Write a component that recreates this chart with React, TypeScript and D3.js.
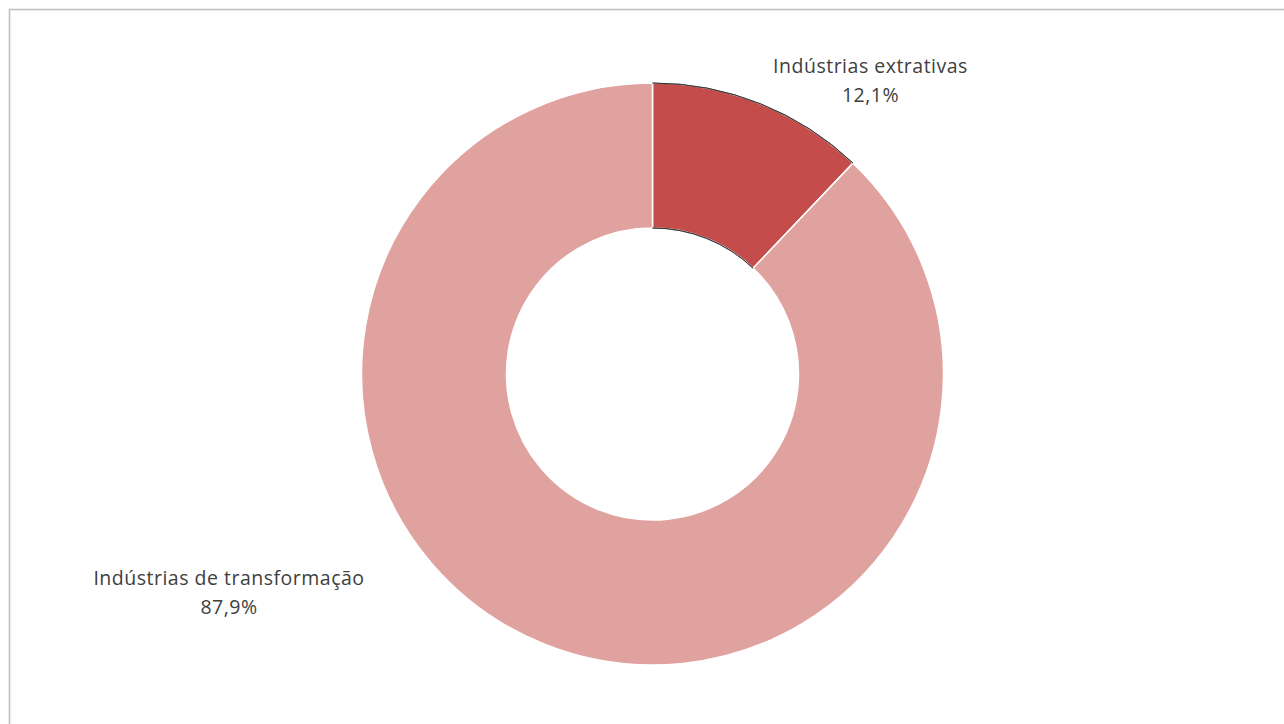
import React from "react";
import * as d3 from "d3";

const categories = ["Indústrias extrativas", "Indústrias de transformação"];
const values = [12.1, 87.9];
const valueLabels = ["12,1%", "87,9%"];
const colors = ["#C44C4A", "#E0A29F"];

const W = 1284;
const H = 724;

export default function App() {
  const cx = 652.5;
  const cy = 374;
  const outerR = 291;
  const innerR = 146;

  const pie = d3.pie<number>().sort(null).startAngle(0).endAngle(2 * Math.PI);
  const arcs = pie(values);
  const arcGen = d3.arc<d3.PieArcDatum<number>>().innerRadius(innerR).outerRadius(outerR);

  const red = arcs[0];
  const outerArc = d3.arc()({ innerRadius: outerR, outerRadius: outerR, startAngle: red.startAngle, endAngle: red.endAngle } as any);
  const innerArc = d3.arc()({ innerRadius: innerR, outerRadius: innerR, startAngle: red.startAngle, endAngle: red.endAngle } as any);

  const labelPos = [
    { x: 870.5, y: 73 },
    { x: 229, y: 585 },
  ];

  return (
    <svg
      width={W}
      height={H}
      style={{ position: "absolute", left: 0, top: 0, display: "block" }}
    >
      <rect x={0} y={0} width={W} height={H} fill="#fff" />
      <rect x={9.5} y={9.5} width={W + 20} height={H + 20} fill="#fff" stroke="#bdbdbd" strokeWidth={1.5} />
      <g transform={`translate(${cx},${cy})`}>
        {arcs.map((a, i) => (
          <path key={i} d={arcGen(a) || ""} fill={colors[i]} stroke="#ffffff" strokeWidth={1.5} />
        ))}
        <path d={outerArc || ""} fill="none" stroke="#2a2a2a" strokeWidth={0.8} />
        <path d={innerArc || ""} fill="none" stroke="#2a2a2a" strokeWidth={0.8} />
      </g>
      {categories.map((c, i) => (
        <text
          key={c}
          x={labelPos[i].x}
          y={labelPos[i].y}
          textAnchor="middle"
          fontFamily="'Open Sans', 'Noto Sans', sans-serif"
          fontSize={19.5}
          letterSpacing={0.5}
          fill="#404040"
        >
          <tspan x={labelPos[i].x} dy={0}>{c}</tspan>
          <tspan x={labelPos[i].x} dy={29}>{valueLabels[i]}</tspan>
        </text>
      ))}
    </svg>
  );
}
